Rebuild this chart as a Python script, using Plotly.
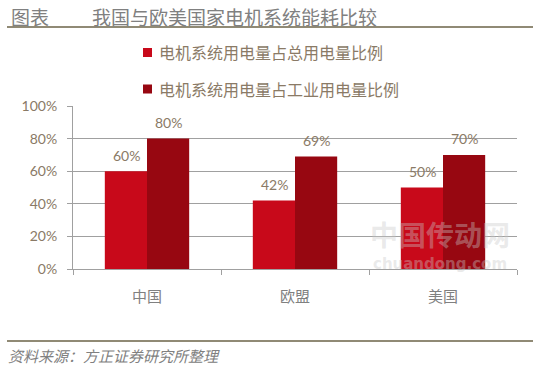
import plotly.graph_objects as go

categories = ["中国", "欧盟", "美国"]
series_names = ["电机系统用电量占总用电量比例", "电机系统用电量占工业用电量比例"]
share_total = [0.60, 0.42, 0.50]
share_industry = [0.80, 0.69, 0.70]
y_ticks = [0, 0.2, 0.4, 0.6, 0.8, 1.0]
y_tick_labels = ["0%", "20%", "40%", "60%", "80%", "100%"]
title_prefix = "图表"
title_text = "我国与欧美国家电机系统能耗比较"
source_text = "资料来源：方正证券研究所整理"

colors = ["#C8091A", "#970711"]
W, H = 555, 365
L, R, T, B = 73, 38, 106, 96
PW, PH = W - L - R, H - T - B
CJK = "Noto Sans CJK SC"
txt_col = "#8a7a66"
grey = "#808080"


def px(x):
    return (x - L) / PW


def py(y):
    return (H - B - y) / PH


fig = go.Figure()
for name, vals, col in zip(series_names, [share_total, share_industry], colors):
    fig.add_trace(go.Bar(x=categories, y=vals, name=name, marker_color=col,
                         marker_line_width=0, showlegend=False, hoverinfo="skip"))

annotations = []
# value labels
for vals, shift in [(share_total, -21), (share_industry, 21)]:
    for c, v in zip(categories, vals):
        annotations.append(dict(x=c, y=v, xref="x", yref="y", text=f"{round(v*100)}%",
                                showarrow=False, xshift=shift, yshift=16, yanchor="middle",
                                font=dict(family="Lato", size=14, color=txt_col)))

# legend (manual)
shapes = []
for i, (name, col) in enumerate(zip(series_names, colors)):
    cy = [52.5, 89][i]
    shapes.append(dict(type="rect", xref="paper", yref="paper",
                       x0=px(143), x1=px(152), y0=py(cy - 4.5), y1=py(cy + 4.5),
                       fillcolor=col, line_width=0))
    annotations.append(dict(x=px(157), y=py(cy), xref="paper", yref="paper", text=name,
                            showarrow=False, xanchor="left", yanchor="middle",
                            font=dict(family=CJK, size=16, color=txt_col)))

# titles
annotations.append(dict(x=px(9), y=py(16), xref="paper", yref="paper", text=title_prefix,
                        showarrow=False, xanchor="left", yanchor="middle",
                        font=dict(family=CJK, size=19, color=grey)))
annotations.append(dict(x=px(90), y=py(16), xref="paper", yref="paper", text=title_text,
                        showarrow=False, xanchor="left", yanchor="middle",
                        font=dict(family=CJK, size=19, color=grey)))
annotations.append(dict(x=px(6), y=py(355), xref="paper", yref="paper", text=source_text,
                        showarrow=False, xanchor="left", yanchor="middle",
                        font=dict(family=CJK, size=15, color=grey, style="italic")))
# watermark
annotations.append(dict(x=px(440), y=py(234), xref="paper", yref="paper", text="<b>中国传动网</b>",
                        showarrow=False, xanchor="center", yanchor="middle",
                        font=dict(family=CJK, size=28, color="rgba(200,200,200,0.4)")))
annotations.append(dict(x=px(440), y=py(264), xref="paper", yref="paper", text="<b>chuandong.com</b>",
                        showarrow=False, xanchor="center", yanchor="middle",
                        font=dict(family="DejaVu Sans", size=15, color="rgba(200,200,200,0.4)")))

for yy in [27, 341]:
    shapes.append(dict(type="line", xref="paper", yref="paper", x0=px(7), x1=px(533),
                       y0=py(yy), y1=py(yy), line=dict(color="#6b6347", width=1.5)))

fig.update_layout(
    width=W, height=H, margin=dict(l=L, r=R, t=T, b=B),
    paper_bgcolor="white", plot_bgcolor="white",
    barmode="group", bargap=0.43, bargroupgap=0,
    annotations=annotations, shapes=shapes,
    xaxis=dict(showgrid=False, showline=True, linecolor="#a0a0a0", linewidth=1,
               ticks="outside", tickson="boundaries", ticklen=5, tickcolor="#a0a0a0",
               ticklabelstandoff=14,
               tickfont=dict(family=CJK, size=15, color=grey), fixedrange=True),
    yaxis=dict(range=[0, 1], tickvals=y_ticks, ticktext=y_tick_labels,
               showgrid=True, gridcolor="#a0a0a0", gridwidth=1,
               showline=True, linecolor="#a0a0a0", linewidth=1,
               ticks="outside", ticklen=5, tickcolor="#a0a0a0", ticklabelstandoff=7,
               tickfont=dict(family="Lato", size=14, color=txt_col), zeroline=False,
               fixedrange=True),
)

fig.write_html("out.html", config={"displayModeBar": False},
               post_script="document.body.style.margin='0';document.body.style.overflow='hidden';")
